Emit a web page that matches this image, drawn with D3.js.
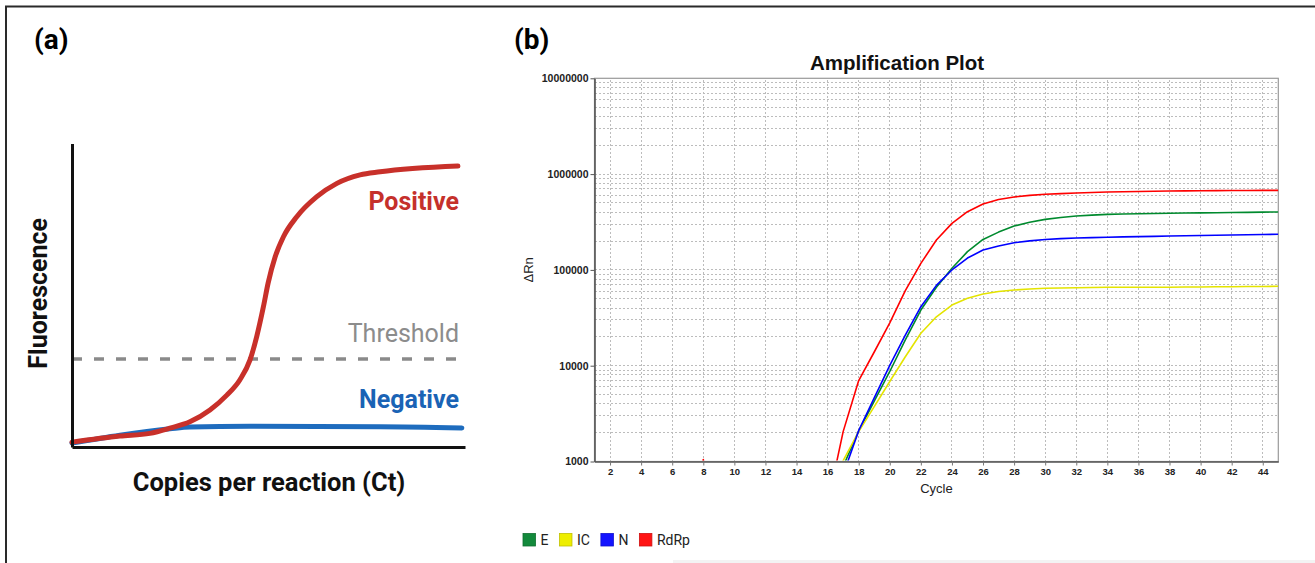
<!DOCTYPE html>
<html lang="en">
<head>
<meta charset="UTF-8">
<title>qPCR amplification</title>
<script src="https://d3js.org/d3.v7.min.js"></script>
<style>
    body { margin: 0; background: #fff; }
    .grid line { stroke: #bcbcbc; stroke-dasharray: 2,2; shape-rendering: crispEdges; }
</style>
</head>
<body>
<script>
    // ---- panel (a): schematic curves (x: 0-100, y: 0-100 arbitrary units)
    const positiveCurve = [[0,1.6],[12.2,3.6],[19.8,4.5],[24.9,6.2],[30.0,8.3],[35.1,12.2],[39.4,17.1],
        [42.7,22.1],[45.3,28.7],[47.0,36.4],[48.7,46.2],[49.9,54.0],[51.7,62.7],[53.8,69.3],[57.2,75.9],
        [62.3,82.5],[67.4,86.9],[73.3,89.7],[78.4,90.7],[98.2,92.6]];
    const negativeCurve = [[0,1.3],[12.2,3.9],[24.9,6.0],[30,6.6],[45.3,6.8],[78.4,6.7],[99.2,6.3]];
    const thresholdLevel = 29;

    // ---- panel (b): amplification plot
    const cycles = [1,2,3,4,5,6,7,8,9,10,11,12,13,14,15,16,17,18,19,20,21,22,23,
        24,25,26,27,28,29,30,31,32,33,34,35,36,37,38,39,40,41,42,43,44,45];
    const valE = [120,110,100,105,100,95,100,110,105,100,110,120,130,150,190,260,890,2080,4270,8700,
        18600,38100,66000,104000,155000,208000,248000,287000,314000,337000,352000,365000,373000,380000,
        383000,385000,388000,390000,392000,394000,395500,397000,399000,401000,402000];
    const valIC = [140,130,120,125,115,110,120,115,110,120,125,135,150,180,240,400,1020,2050,3740,6840,
        12400,21800,32400,43000,50600,56000,59600,61700,63100,64300,64700,65200,65500,65800,
        65800,65900,66000,66000,66200,66400,66600,66800,67000,67200,67400];
    const valN = [130,120,110,100,110,105,100,95,100,105,110,115,125,140,170,230,730,2100,4610,10100,
        20800,41300,68900,99800,133000,161000,178000,192000,201000,208000,212000,215000,217000,219000,
        221000,222500,224000,226000,227500,229000,230000,231000,232500,234000,235500];
    const valRdRp = [210,180,160,170,150,140,160,1050,150,140,130,140,150,170,220,357,2050,7000,13900,28000,
        60700,117000,205000,306000,405000,487000,543000,577000,600000,615000,626000,635000,643000,650000,
        654000,658000,662000,665000,668000,670000,672000,674000,675000,676000,677000];
    const seriesNames = ["E","IC","N","RdRp"];
    const lineColors = ["#008a2e","#e4e400","#0000ff","#ff0000"];
    const legendColors = ["#138a3c","#eeee00","#1414ff","#ff1414"];
    const xTicks = [2,4,6,8,10,12,14,16,18,20,22,24,26,28,30,32,34,36,38,40,42,44];
    const yTicks = [1000,10000,100000,1000000,10000000];

    const svg = d3.select("body").append("svg")
        .attr("width", 1315)
        .attr("height", 563);

    svg.append("rect").attr("width", 1315).attr("height", 563).attr("fill", "#fff");
    // outer frame (top and left edges visible)
    svg.append("path")
        .attr("d", "M6,563 L6,6.5 L1315,6.5")
        .attr("fill", "none")
        .attr("stroke", "#2a2a2a")
        .attr("stroke-width", 2);
    svg.append("rect")
        .attr("x", 673).attr("y", 560).attr("width", 642).attr("height", 3)
        .attr("fill", "#f3f3f3");

    // ================= panel (a)
    const pa = svg.append("g").attr("id", "panelA").style("font-family", "Roboto, sans-serif");
    const xA = d3.scaleLinear().domain([0, 100]).range([72, 465]);
    const yA = d3.scaleLinear().domain([0, 100]).range([447, 143.6]);

    pa.append("text").attr("x", 34).attr("y", 49)
        .style("font-size", "28px").style("font-weight", "bold").text("(a)");

    pa.append("line")
        .attr("x1", xA(0)).attr("x2", xA(98)).attr("y1", yA(thresholdLevel)).attr("y2", yA(thresholdLevel))
        .attr("stroke", "#8a8a8a").attr("stroke-width", 3.5).attr("stroke-dasharray", "10,12");

    const lineA = d3.line().x(d => xA(d[0])).y(d => yA(d[1])).curve(d3.curveMonotoneX);
    pa.append("path").datum(negativeCurve).attr("d", lineA)
        .attr("fill", "none").attr("stroke", "#1e6cbe").attr("stroke-width", 5).attr("stroke-linecap", "round");
    pa.append("path").datum(positiveCurve).attr("d", lineA)
        .attr("fill", "none").attr("stroke", "#c8302a").attr("stroke-width", 5).attr("stroke-linecap", "round");

    pa.append("g").attr("transform", `translate(${xA(0)},0)`)
        .call(d3.axisLeft(yA).tickValues([]).tickSizeOuter(0))
        .select(".domain").attr("stroke", "#111").attr("stroke-width", 3);
    pa.append("g").attr("transform", `translate(0,${yA(0)})`)
        .call(d3.axisBottom(xA).tickValues([]).tickSizeOuter(0))
        .select(".domain").attr("stroke", "#111").attr("stroke-width", 3);

    pa.append("text").attr("x", 459).attr("y", 210).attr("text-anchor", "end")
        .style("font-size", "25px").style("font-weight", "bold").attr("fill", "#c5302b").text("Positive");
    pa.append("text").attr("x", 459).attr("y", 342).attr("text-anchor", "end")
        .style("font-size", "25px").attr("fill", "#8c8c8c").text("Threshold");
    pa.append("text").attr("x", 459).attr("y", 407.5).attr("text-anchor", "end")
        .style("font-size", "25px").style("font-weight", "bold").attr("fill", "#1a63b5").text("Negative");
    pa.append("text")
        .attr("transform", `translate(47,${(yA(0) + yA(100)) / 2 - 2}) rotate(-90)`)
        .attr("text-anchor", "middle")
        .style("font-size", "25px").style("font-weight", "bold").attr("fill", "#111").text("Fluorescence");
    pa.append("text").attr("x", 269).attr("y", 491).attr("text-anchor", "middle")
        .style("font-size", "25.5px").style("font-weight", "bold").attr("fill", "#111").text("Copies per reaction (Ct)");

    // ================= panel (b)
    const pb = svg.append("g").attr("id", "panelB").style("font-family", "'Liberation Sans', Arial, sans-serif");
    const xB = d3.scaleLinear().domain([1, 45]).range([594.5, 1278.3]);
    const yB = d3.scaleLog().domain([1000, 10000000]).range([461.5, 78.3]);

    svg.append("text").attr("x", 514).attr("y", 49)
        .style("font-family", "Roboto, sans-serif")
        .style("font-size", "28px").style("font-weight", "bold").text("(b)");

    pb.append("text").attr("x", 897).attr("y", 70).attr("text-anchor", "middle")
        .style("font-size", "20.5px").style("font-weight", "bold").attr("fill", "#111").text("Amplification Plot");

    // grid
    pb.append("g").attr("class", "grid")
        .selectAll("line").data(yB.ticks().filter(v => v > 1000 && v < 10000000))
        .join("line")
        .attr("x1", xB(1)).attr("x2", xB(45))
        .attr("y1", d => yB(d)).attr("y2", d => yB(d));
    pb.append("g").attr("class", "grid")
        .selectAll("line").data(xTicks)
        .join("line")
        .attr("x1", d => xB(d)).attr("x2", d => xB(d))
        .attr("y1", yB(1000)).attr("y2", yB(10000000));

    // border
    pb.append("rect")
        .attr("x", xB(1)).attr("y", yB(10000000))
        .attr("width", xB(45) - xB(1)).attr("height", yB(1000) - yB(10000000))
        .attr("fill", "none").attr("stroke", "#9a9a9a").attr("stroke-width", 1.2);

    // curves
    svg.append("clipPath").attr("id", "plotClip")
        .append("rect")
        .attr("x", xB(1)).attr("y", yB(10000000) - 1)
        .attr("width", xB(45) - xB(1)).attr("height", yB(1000) - yB(10000000));

    const seriesValues = [valE, valIC, valN, valRdRp];
    const lineB = d3.line()
        .x(d => xB(d[0]))
        .y(d => yB(Math.max(d[1], 10)));
    pb.append("g").attr("clip-path", "url(#plotClip)")
        .selectAll("path").data(seriesValues)
        .join("path")
        .attr("d", vals => lineB(cycles.map((c, i) => [c, vals[i]])))
        .attr("fill", "none")
        .attr("stroke", (d, i) => lineColors[i])
        .attr("stroke-width", 1.6)
        .attr("stroke-linejoin", "round");

    // axes
    const yAxisB = pb.append("g").attr("transform", `translate(${xB(1)},0)`)
        .call(d3.axisLeft(yB).tickValues(yTicks).tickFormat(d3.format("d")).tickSize(4).tickPadding(2).tickSizeOuter(0));
    yAxisB.selectAll("text").style("font-size", "10.5px").style("font-weight", "bold").attr("fill", "#222");
    yAxisB.selectAll("line").attr("stroke", "#555");
    yAxisB.select(".domain").attr("stroke", "#555").attr("stroke-width", 1.6);

    const xAxisB = pb.append("g").attr("transform", `translate(0,${yB(1000)})`)
        .call(d3.axisBottom(xB).tickValues(xTicks).tickSize(4).tickPadding(3).tickSizeOuter(0));
    xAxisB.selectAll("text").style("font-size", "9.5px").style("font-weight", "bold").attr("fill", "#222");
    xAxisB.selectAll("line").attr("stroke", "#777");
    xAxisB.select(".domain").attr("stroke", "#555").attr("stroke-width", 1.6);

    pb.append("text").attr("x", (xB(1) + xB(45)) / 2).attr("y", 493).attr("text-anchor", "middle")
        .style("font-size", "13px").attr("fill", "#222").text("Cycle");
    pb.append("text")
        .attr("transform", `translate(533,${(yB(1000) + yB(10000000)) / 2}) rotate(-90)`)
        .attr("text-anchor", "middle")
        .style("font-size", "13px").attr("fill", "#222").text("ΔRn");

    // legend
    const legend = pb.append("g").attr("transform", "translate(523,533.5)");
    let lx = 0;
    seriesNames.forEach((name, i) => {
        legend.append("rect")
            .attr("x", lx).attr("y", 0).attr("width", 12.5).attr("height", 12.5)
            .attr("fill", legendColors[i])
            .attr("stroke", d3.color(legendColors[i]).darker(0.6)).attr("stroke-width", 0.8);
        const t = legend.append("text")
            .attr("x", lx + 17.5).attr("y", 11.8)
            .style("font-family", "Roboto, sans-serif")
            .style("font-size", "14px").attr("fill", "#222").text(name);
        lx += 17.5 + t.node().getComputedTextLength() + 11;
    });
</script>
</body>
</html>
